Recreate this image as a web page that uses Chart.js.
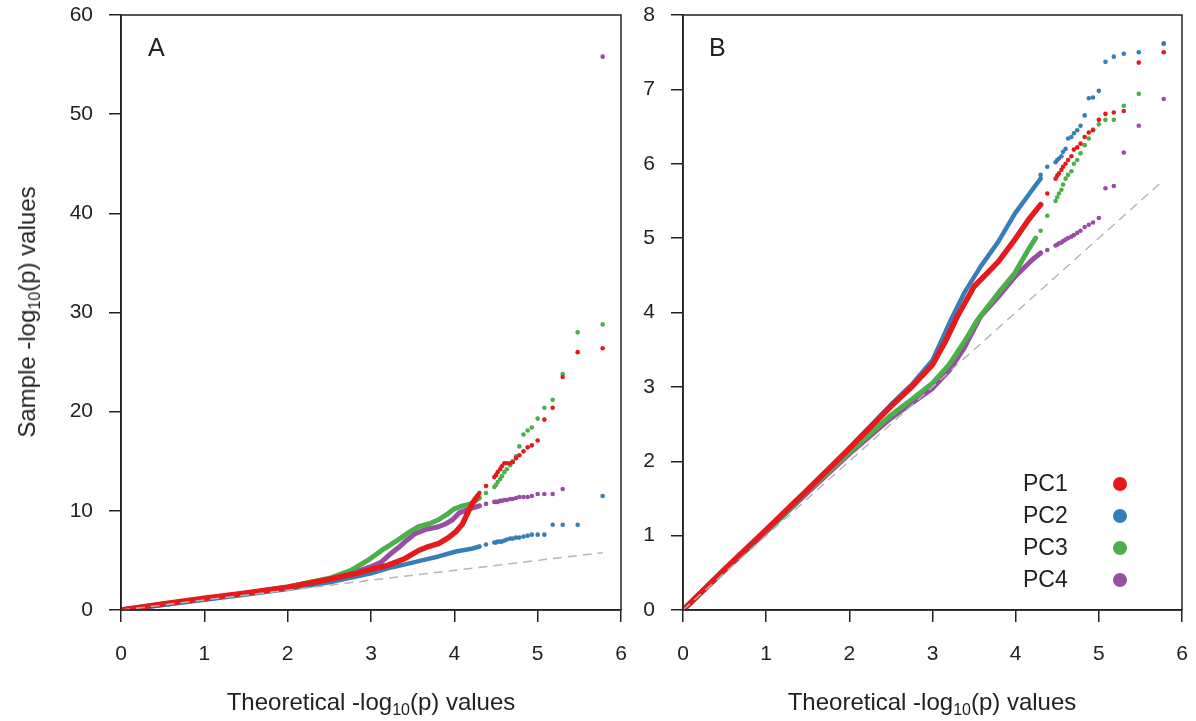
<!DOCTYPE html>
<html>
<head>
<meta charset="utf-8">
<script src="https://cdn.jsdelivr.net/npm/chart.js@4.4.1/dist/chart.umd.min.js"></script>
<style>
  body { margin: 0; background: #fff; width: 1196px; height: 721px; overflow: hidden; position: relative;
         font-family: "Liberation Sans", Arial, Helvetica, sans-serif; color: #222; }
  .box { position: absolute; top: 0; }
  .xtitle { position: absolute; top: 688px; width: 400px; text-align: center; font-size: 24px; white-space: nowrap; }
  .ytitle { position: absolute; left: 27px; top: 312px; font-size: 24px; white-space: nowrap;
            transform: translate(-50%, -50%) rotate(-90deg); }
  sub { font-size: 16px; vertical-align: -5px; line-height: 0; }
  .panel { position: absolute; top: 33px; font-size: 25px; }
  .leg { position: absolute; left: 1023px; font-size: 23px; }
  .dot { position: absolute; left: 1113px; width: 14px; height: 14px; border-radius: 50%; }
</style>
</head>
<body>
<div class="box" style="left:0;width:640px;height:700px"><canvas id="lienzoA"></canvas></div>
<div class="box" style="left:630px;width:566px;height:700px"><canvas id="lienzoB"></canvas></div>

<div class="ytitle">Sample -log<sub>10</sub>(p) values</div>
<div class="xtitle" style="left:171px">Theoretical -log<sub>10</sub>(p) values</div>
<div class="xtitle" style="left:732px">Theoretical -log<sub>10</sub>(p) values</div>
<div class="panel" style="left:148px">A</div>
<div class="panel" style="left:709px">B</div>

<div class="leg" style="top:470px">PC1</div><span class="dot" style="top:477px;background:#E41A1C"></span>
<div class="leg" style="top:502px">PC2</div><span class="dot" style="top:509px;background:#377EB8"></span>
<div class="leg" style="top:534px">PC3</div><span class="dot" style="top:541px;background:#4DAF4A"></span>
<div class="leg" style="top:566px">PC4</div><span class="dot" style="top:573px;background:#984EA3"></span>

<script>
'use strict';

// series y colores
const series = ['PC1', 'PC2', 'PC3', 'PC4'];
const colores = ['#E41A1C', '#377EB8', '#4DAF4A', '#984EA3'];

// linea de referencia y = x
const diagonal = [[0, 0], [5.78, 5.78]];

// cuantiles teoricos de los puntos mas extremos (cola), comunes a todas las series
const tailX = [5.78, 5.48, 5.30, 5.18, 5.08, 5.00, 4.93, 4.88, 4.83, 4.78, 4.74,
               4.70, 4.67, 4.63, 4.60, 4.57, 4.55, 4.52, 4.50, 4.48, 4.38, 4.30];

// PANEL A - parte densa (x, y)
const aBandPC1 = [[0,0],[0.5,0.62],[1,1.18],[1.5,1.72],[2,2.3],[2.5,3.1],[2.8,3.65],[3.0,4.1],[3.2,4.5],
                  [3.41,5.2],[3.57,6.0],[3.69,6.4],[3.81,6.7],[3.93,7.3],[4.02,7.9],[4.1,8.7],[4.16,9.8],[4.22,10.8],[4.28,11.5]];
const aBandPC2 = [[0,0],[0.5,0.5],[1,1.02],[1.5,1.56],[2,2.12],[2.5,2.8],[3.0,3.7],[3.2,4.2],[3.41,4.6],
                  [3.61,5.0],[3.81,5.4],[4.02,5.9],[4.22,6.2],[4.3,6.4]];
const aBandPC3 = [[0,0],[0.5,0.58],[1,1.12],[1.5,1.7],[2,2.32],[2.5,3.2],[2.76,4.0],[2.96,5.0],[3.16,6.2],
                  [3.33,7.1],[3.45,7.8],[3.57,8.4],[3.7,8.7],[3.81,9.1],[3.92,9.7],[4.0,10.2],[4.1,10.5],[4.2,10.7],[4.3,11.3]];
const aBandPC4 = [[0,0],[0.5,0.56],[1,1.1],[1.5,1.68],[2,2.28],[2.5,3.1],[2.8,3.8],[3.01,4.4],[3.12,4.8],
                  [3.24,5.7],[3.33,6.3],[3.41,6.9],[3.53,7.7],[3.65,8.1],[3.81,8.4],[3.9,8.7],[3.98,9.1],[4.06,9.8],[4.18,10.2],[4.3,10.5]];

// PANEL A - cola (y para cada valor de tailX)
const aTailPC1 = [26.4, 26.0, 23.5, 20.4, 19.2, 17.1, 16.6, 16.4, 16.0, 15.6, 15.3, 14.9, 14.8, 14.8, 14.8, 14.5, 14.2, 13.9, 13.6, 13.4, 12.5, 11.8];
const aTailPC2 = [11.5, 8.6, 8.6, 8.6, 7.6, 7.6, 7.6, 7.5, 7.4, 7.3, 7.3, 7.2, 7.2, 7.1, 7.0, 6.9, 6.9, 6.9, 6.8, 6.8, 6.6, 6.4];
const aTailPC3 = [28.8, 28.0, 23.8, 21.2, 20.4, 19.3, 18.4, 18.1, 17.7, 16.5, 15.5, 15.0, 14.6, 14.2, 13.9, 13.5, 13.2, 12.9, 12.6, 12.4, 11.8, 11.3];
const aTailPC4 = [55.8, null, 12.2, 11.7, 11.7, 11.7, 11.5, 11.4, 11.4, 11.4, 11.3, 11.2, 11.2, 11.1, 11.1, 11.0, 11.0, 10.9, 10.9, 10.9, 10.7, 10.5];

// PANEL B - parte densa (x, y)
const bBandPC1 = [[0,0],[0.5,0.55],[1,1.08],[1.5,1.62],[2,2.17],[2.5,2.74],[2.75,3.0],[3.0,3.3],[3.15,3.6],[3.3,3.95],[3.5,4.35],
                  [3.79,4.68],[3.99,4.98],[4.15,5.24],[4.3,5.45]];
const bBandPC2 = [[0,0],[0.5,0.54],[1,1.07],[1.5,1.61],[2,2.18],[2.5,2.76],[2.75,3.03],[3.0,3.36],[3.12,3.65],[3.22,3.9],[3.38,4.26],
                  [3.58,4.62],[3.79,4.95],[3.99,5.33],[4.2,5.65],[4.3,5.8]];
const bBandPC3 = [[0,0],[0.5,0.54],[1,1.06],[1.5,1.6],[2,2.12],[2.5,2.62],[2.75,2.83],[3.0,3.05],[3.2,3.3],[3.38,3.6],[3.54,3.9],
                  [3.79,4.26],[3.99,4.53],[4.15,4.84],[4.24,5.0]];
const bBandPC4 = [[0,0],[0.5,0.53],[1,1.05],[1.5,1.58],[2,2.1],[2.5,2.58],[2.75,2.78],[3.0,2.98],[3.2,3.22],[3.38,3.52],[3.58,3.95],
                  [3.79,4.21],[3.99,4.48],[4.2,4.71],[4.3,4.8]];

// PANEL B - cola
const bTailPC1 = [7.50, 7.36, 6.71, 6.69, 6.67, 6.59, 6.45, 6.42, 6.36, 6.27, 6.22, 6.19, 6.10, 6.05, 6.00, 5.96, 5.92, 5.87, 5.84, 5.80, 5.60, 5.45];
const bTailPC2 = [7.62, 7.50, 7.48, 7.44, 7.37, 6.98, 6.89, 6.88, 6.65, 6.51, 6.45, 6.41, 6.36, 6.34, 6.20, 6.16, 6.10, 6.07, 6.05, 6.02, 5.96, 5.85];
const bTailPC3 = [7.61, 6.94, 6.78, 6.59, 6.59, 6.53, 6.46, 6.34, 6.25, 6.14, 6.05, 6.00, 5.90, 5.85, 5.80, 5.72, 5.65, 5.60, 5.55, 5.50, 5.30, 5.10];
const bTailPC4 = [6.87, 6.51, 6.15, 5.70, 5.67, 5.27, 5.21, 5.18, 5.15, 5.10, 5.07, 5.04, 5.02, 5.00, 4.98, 4.96, 4.94, 4.93, 4.91, 4.90, 4.84, 4.80];

const anchoBanda = [5.5, 4.5, 5, 5];

// dibuja el marco completo del area (estilo R)
const marco = {
    id: 'marco',
    afterDraw(chart) {
        const a = chart.chartArea;
        const ctx = chart.ctx;
        ctx.save();
        ctx.strokeStyle = '#222';
        ctx.lineWidth = 1.5;
        ctx.strokeRect(a.left, a.top, a.right - a.left, a.bottom - a.top);
        ctx.restore();
    }
};

function pares(lista) {
    return lista.map(p => ({ x: p[0], y: p[1] }));
}

function cola(ys) {
    return ys.map((y, i) => ({ x: tailX[i], y: y }));
}

function grafica(id, bandas, colas, yMax, yPaso, anchoEje, margenDer) {
    const datasets = [{
        label: 'y = x',
        data: pares(diagonal),
        showLine: true,
        borderColor: '#b5b5b5',
        borderWidth: 1.5,
        borderDash: [9, 6],
        pointRadius: 0
    }];
    // PC1 al final para que quede encima
    series.forEach((s, i) => {
        datasets.push({
            label: s + ' cola',
            data: cola(colas[i]),
            showLine: false,
            pointRadius: 2.3,
            pointBorderWidth: 0,
            backgroundColor: colores[i],
            borderColor: colores[i]
        });
        datasets.push({
            label: s,
            data: pares(bandas[i]),
            showLine: true,
            borderColor: colores[i],
            borderWidth: anchoBanda[i],
            borderJoinStyle: 'round',
            borderCapStyle: 'round',
            pointRadius: 0,
            tension: 0
        });
    });

    const ejeFuente = { family: '"Liberation Sans", Arial, Helvetica, sans-serif', size: 21 };
    const rejilla = { display: true, drawOnChartArea: false, drawTicks: true, tickLength: 12, color: '#222', lineWidth: 1.5 };

    return new Chart(document.getElementById(id), {
        type: 'scatter',
        data: { datasets: datasets },
        options: {
            responsive: true,
            maintainAspectRatio: false,
            animation: false,
            layout: { padding: { top: 15, right: margenDer, left: 0, bottom: 0 } },
            plugins: { legend: { display: false }, tooltip: { enabled: false } },
            scales: {
                x: {
                    type: 'linear', min: 0, max: 6,
                    grid: rejilla,
                    border: { display: true, color: '#222', width: 1.5 },
                    ticks: { stepSize: 1, color: '#222', font: ejeFuente, padding: 20, maxRotation: 0, autoSkip: false },
                    afterFit: s => { s.height = 90; s.paddingLeft = 0; s.paddingRight = 0; }
                },
                y: {
                    type: 'linear', min: 0, max: yMax,
                    grid: rejilla,
                    border: { display: true, color: '#222', width: 1.5 },
                    ticks: { stepSize: yPaso, color: '#222', font: ejeFuente, padding: 16, autoSkip: false },
                    afterFit: s => { s.width = anchoEje; s.paddingTop = 0; s.paddingBottom = 0; }
                }
            }
        },
        plugins: [marco]
    });
}

grafica('lienzoA', [aBandPC1, aBandPC2, aBandPC3, aBandPC4], [aTailPC1, aTailPC2, aTailPC3, aTailPC4], 60, 10, 121, 19);
grafica('lienzoB', [bBandPC1, bBandPC2, bBandPC3, bBandPC4], [bTailPC1, bTailPC2, bTailPC3, bTailPC4], 8, 1, 53, 14);
</script>
</body>
</html>
